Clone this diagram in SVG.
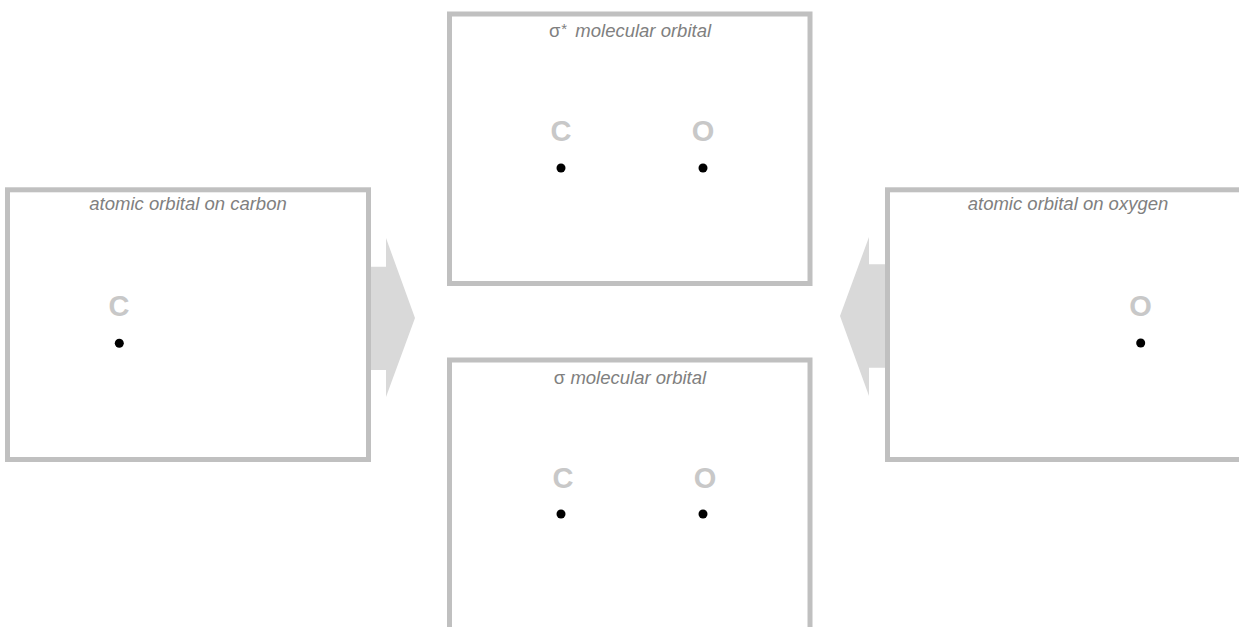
<svg xmlns="http://www.w3.org/2000/svg" width="1239" height="627" viewBox="0 0 1239 627">
<style>
.box{fill:#ffffff;stroke:#c0c0c0;stroke-width:5}
.title{font-family:"Liberation Sans",Arial,sans-serif;font-size:18.5px;font-style:italic;fill:#808080;text-anchor:middle}
.sig{font-style:normal}
.atom{font-family:"Liberation Sans",Arial,sans-serif;font-size:29px;font-weight:bold;fill:#c8c8c8;text-anchor:middle}
.dot{fill:#000000}
.arrow{fill:#d9d9d9;stroke:none}
</style>
<rect x="0" y="0" width="1239" height="627" fill="#ffffff"/>
<g id="sigma-star">
<rect class="box" x="449.5" y="14" width="360.5" height="269.5"/>
<text class="title" x="630" y="36.5"><tspan class="sig">σ</tspan><tspan dx="1" dy="-3" font-size="15" font-style="normal">*</tspan><tspan dx="3" dy="3"> molecular orbital</tspan></text>
<text class="atom" x="561" y="141">C</text>
<circle class="dot" cx="561" cy="168" r="4.5"/>
<text class="atom" x="703" y="141">O</text>
<circle class="dot" cx="703" cy="168" r="4.5"/>
</g>
<g id="sigma">
<rect class="box" x="449.5" y="360" width="360.5" height="280"/>
<text class="title" x="630" y="383.5"><tspan class="sig">σ</tspan> molecular orbital</text>
<text class="atom" x="563" y="488">C</text>
<circle class="dot" cx="561" cy="514" r="4.5"/>
<text class="atom" x="705" y="488">O</text>
<circle class="dot" cx="703" cy="514" r="4.5"/>
</g>
<g id="carbon">
<rect class="box" x="7.5" y="189.8" width="361" height="269.7"/>
<text class="title" x="188" y="210">atomic orbital on carbon</text>
<text class="atom" x="119" y="316">C</text>
<circle class="dot" cx="119.3" cy="343.3" r="4.5"/>
</g>
<g id="oxygen">
<rect class="box" x="887.5" y="189.8" width="361" height="269.7"/>
<text class="title" x="1068" y="210">atomic orbital on oxygen</text>
<text class="atom" x="1140.5" y="316">O</text>
<circle class="dot" cx="1140.7" cy="343" r="4.5"/>
</g>
<g id="connectors">
<polygon class="arrow" points="371,266.7 386,266.7 386,238 415,318 386,397 386,370 371,370"/>
<polygon class="arrow" points="885,264.3 869,264.3 869,237 840,316 869,396 869,367.7 885,367.7"/>
</g>
</svg>
